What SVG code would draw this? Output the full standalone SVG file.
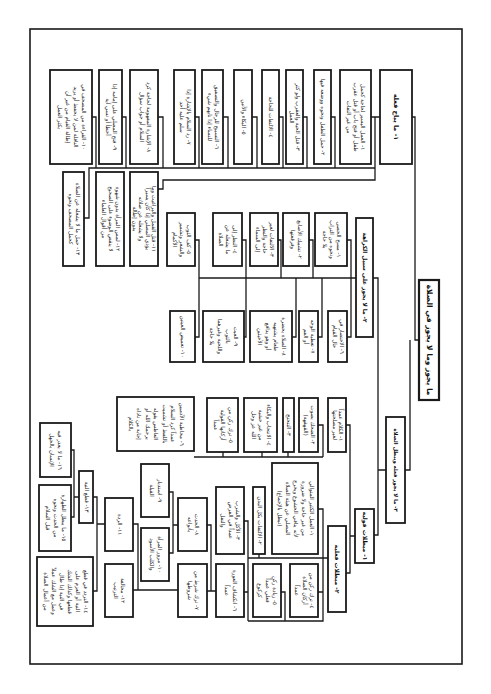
<svg xmlns="http://www.w3.org/2000/svg" width="491" height="694" viewBox="0 0 491 694">
<style>
.b{fill:#fff;stroke:#1a1a1a;stroke-width:1.8}
.t{font-family:"DejaVu Sans",sans-serif;font-size:5.5px;fill:#222;text-anchor:middle}
.h{font-family:"DejaVu Sans",sans-serif;font-size:6px;font-weight:bold;fill:#111;text-anchor:middle}
.c{fill:none;stroke:#1a1a1a;stroke-width:1.3}
</style>
<rect x="0" y="0" width="491" height="694" fill="#fff"/>
<rect x="30" y="29" width="432" height="635" fill="none" stroke="#1a1a1a" stroke-width="1.6"/>

<g id="connectors" class="c">
<path d="M371,117H380M412,117H415V340H419M410,340V470H405"/>
<path d="M375,117V180H163V189H158"/>
<path d="M375,168H89V218H84"/>
<path d="M331,117H335V168M303,117H307V168M279,117H283V168M252,117H257V168M223,117H228V168M195,117H199V168M158,117H163V168M122,117H126V168M92,117H96V168"/>
<path d="M373,278H378V535H374M386,470H378"/>
<path d="M356,278H199"/>
<path d="M347,240H351V337H347M309,240H313V278M278,240H281V278M242,240H246V337H244M195,240H199V337H195M296,278V337H292M322,278V337H318"/>
<path d="M346,425H350V573H346M355,536H350"/>
<path d="M318,425H323V457M194,457H323M223,452V457M262,452V457M288,452V457"/>
<path d="M328,558H248M318,509H323V621H248M318,592H323M281,592H285V621M244,521H248V621M244,592H248M259,554V558"/>
<path d="M207,591H216M207,525H211V591"/>
<path d="M169,492H173V553H169M173,525H178"/>
<path d="M133,524H138V590H133M138,590H178"/>
<path d="M93,497H97V591H93M97,524H105"/>
<path d="M71,450H74V517H71M74,497H79"/>
</g>

<g id="title"><rect class="b" x="419" y="280" width="20" height="120" style="stroke-width:2.2"/>
<text class="h" style="font-size:7.5px" transform="translate(426.5,280) rotate(90)" x="60" y="0">ما يجوز وما لا يجوز في الصلاة</text></g>

<g id="h1"><rect class="b" x="380" y="70" width="32" height="94"/>
<text class="h" style="font-size:6.5px" transform="translate(394,70) rotate(90)" x="47" y="0">١- ما يباح فعله</text></g>

<g id="a1"><rect class="b" x="340" y="70" width="31" height="94"/>
<text class="t" transform="translate(361,70) rotate(90)"><tspan x="47" y="0">١- العمل اليسير لحاجة كحمل</tspan><tspan x="47" y="7">طفل أو فتح باب أو قتل عقرب</tspan><tspan x="47" y="14">من غير التفات</tspan></text></g>
<g id="a2"><rect class="b" x="314" y="70" width="17" height="94"/>
<text class="t" transform="translate(321,70) rotate(90)"><tspan x="47" y="0">٢- حمل الطفل ونحوه ووضعه فيها</tspan></text></g>
<g id="a3"><rect class="b" x="286" y="70" width="17" height="94"/>
<text class="t" transform="translate(296,70) rotate(90)"><tspan x="47" y="0">٣- قتل الحية والعقرب ولو كثر</tspan><tspan x="47" y="6">العمل</tspan></text></g>
<g id="a4"><rect class="b" x="262" y="70" width="17" height="94"/>
<text class="t" transform="translate(269,70) rotate(90)"><tspan x="47" y="0">٤- الالتفات للحاجة</tspan></text></g>
<g id="a5"><rect class="b" x="234" y="70" width="18" height="94"/>
<text class="t" transform="translate(241.5,70) rotate(90)"><tspan x="47" y="0">٥- البكاء والأنين</tspan></text></g>
<g id="a6"><rect class="b" x="202" y="70" width="21" height="94"/>
<text class="t" transform="translate(214.5,70) rotate(90)"><tspan x="47" y="0">٦- التسبيح للرجال والتصفيق</tspan><tspan x="47" y="7">للنساء إذا نابهم شيء</tspan></text></g>
<g id="a7"><rect class="b" x="174" y="70" width="21" height="94"/>
<text class="t" transform="translate(186.5,70) rotate(90)"><tspan x="47" y="0">٧- رد السلام بالإشارة إذا</tspan><tspan x="47" y="7">سلم عليه أحد</tspan></text></g>
<g id="a8"><rect class="b" x="130" y="70" width="28" height="94"/>
<text class="t" transform="translate(147,70) rotate(90)"><tspan x="47" y="0">٨- الإشارة المفهومة لحاجة كرد</tspan><tspan x="47" y="7">السلام أو جواب سؤال</tspan></text></g>
<g id="a9"><rect class="b" x="99" y="70" width="23" height="94"/>
<text class="t" transform="translate(112.5,70) rotate(90)"><tspan x="47" y="0">٩- فتح المصلي على إمامه إذا</tspan><tspan x="47" y="7">أخطأ أو نسي آية</tspan></text></g>
<g id="a10"><rect class="b" x="50" y="70" width="42" height="94"/>
<text class="t" transform="translate(81.5,70) rotate(90)"><tspan x="47" y="0">١٠- القراءة من المصحف في</tspan><tspan x="47" y="8">النافلة لمن لا يحفظ أو يريد</tspan><tspan x="47" y="16">إطالة القيام من غير أن</tspan><tspan x="47" y="24">يكثر العمل</tspan></text></g>
<g id="a11"><rect class="b" x="130" y="172" width="28" height="94"/>
<text class="t" transform="translate(152,172) rotate(90)"><tspan x="47" y="0">١١- قتل القمل والبراغيث وما</tspan><tspan x="47" y="6.5">يؤذي المصلي إذا كان يسيراً</tspan><tspan x="47" y="13">ولا يشغله عن صلاته</tspan><tspan x="47" y="19.5">بدون إطالة</tspan></text></g>
<g id="a12"><rect class="b" x="96" y="172" width="28" height="94"/>
<text class="t" transform="translate(115.5,172) rotate(90)"><tspan x="47" y="0">١٢- لمس المرأة بدون شهوة</tspan><tspan x="47" y="7">لا ينقض الوضوء على الصحيح</tspan><tspan x="47" y="14">من أقوال العلماء</tspan></text></g>
<g id="a13"><rect class="b" x="63" y="172" width="21" height="94"/>
<text class="t" transform="translate(75.5,172) rotate(90)"><tspan x="47" y="0">١٣- حمل ما لا يشغله عن الصلاة</tspan><tspan x="47" y="7">كحمل المصحف ونحوه</tspan></text></g>

<g id="kh"><rect class="b" x="356" y="218" width="17" height="119"/>
<text class="h" style="font-size:5.8px" transform="translate(363,218) rotate(90)" x="59.5" y="0">٢- ما لا يجوز على سبيل الكراهة</text></g>
<g id="k1"><rect class="b" x="315" y="213" width="32" height="53"/>
<text class="t" transform="translate(336.5,213) rotate(90)"><tspan x="26.5" y="0">١- مسح الحصى</tspan><tspan x="26.5" y="7">ونحوه من التراب</tspan><tspan x="26.5" y="14">بلا حاجة</tspan></text></g>
<g id="k2"><rect class="b" x="283" y="213" width="26" height="53"/>
<text class="t" transform="translate(298,213) rotate(90)"><tspan x="26.5" y="0">٢- تشبيك الأصابع</tspan><tspan x="26.5" y="7">وفرقعتها</tspan></text></g>
<g id="k3"><rect class="b" x="250" y="213" width="28" height="53"/>
<text class="t" transform="translate(269.5,213) rotate(90)"><tspan x="26.5" y="0">٣- الالتفات لغير</tspan><tspan x="26.5" y="7">حاجة والنظر</tspan><tspan x="26.5" y="14">إلى السماء</tspan></text></g>
<g id="k4"><rect class="b" x="213" y="213" width="29" height="53"/>
<text class="t" transform="translate(233,213) rotate(90)"><tspan x="26.5" y="0">٤- النظر إلى</tspan><tspan x="26.5" y="7">ما يشغله عن</tspan><tspan x="26.5" y="14">الصلاة</tspan></text></g>
<g id="k5"><rect class="b" x="167" y="213" width="28" height="53"/>
<text class="t" transform="translate(186.5,213) rotate(90)"><tspan x="26.5" y="0">٥- كف الثوب</tspan><tspan x="26.5" y="7">والشعر وتشمير</tspan><tspan x="26.5" y="14">الأكمام</tspan></text></g>
<g id="l5"><rect class="b" x="328" y="311" width="19" height="51"/>
<text class="t" transform="translate(339.5,311) rotate(90)"><tspan x="25.5" y="0">٦- الاختصار في</tspan><tspan x="25.5" y="6.5">حال القيام</tspan></text></g>
<g id="l4"><rect class="b" x="299" y="311" width="19" height="51"/>
<text class="t" transform="translate(310.5,311) rotate(90)"><tspan x="25.5" y="0">٧- تغطية الوجه</tspan><tspan x="25.5" y="6.5">أو الفم</tspan></text></g>
<g id="l3"><rect class="b" x="250" y="311" width="42" height="51"/>
<text class="t" transform="translate(281.5,311) rotate(90)"><tspan x="25.5" y="0">٨- الصلاة بحضرة</tspan><tspan x="25.5" y="8">طعام يشتهيه</tspan><tspan x="25.5" y="16">أو وهو يدافع</tspan><tspan x="25.5" y="24">الأخبثين</tspan></text></g>
<g id="l2"><rect class="b" x="203" y="311" width="41" height="51"/>
<text class="t" transform="translate(234,311) rotate(90)"><tspan x="25.5" y="0">٩- العبث</tspan><tspan x="25.5" y="8">بالثوب</tspan><tspan x="25.5" y="16">واللحية وغيرهما</tspan><tspan x="25.5" y="24">بلا حاجة</tspan></text></g>
<g id="l1"><rect class="b" x="170" y="311" width="25" height="51"/>
<text class="t" transform="translate(181,311) rotate(90)"><tspan x="25.5" y="0">١٠- تغميض العينين</tspan></text></g>

<g id="b2"><rect class="b" x="386" y="417" width="19" height="106"/>
<text class="h" style="font-size:5.3px" transform="translate(393.5,417) rotate(90)" x="53" y="0">٣- ما لا يجوز فعله ويبطل الصلاة</text></g>
<g id="b3"><rect class="b" x="355" y="509" width="19" height="54"/>
<text class="h" transform="translate(362.5,509) rotate(90)" x="27" y="0">١- مبطلات قولية</text></g>
<g id="p"><rect class="b" x="328" y="526" width="18" height="86"/>
<text class="h" transform="translate(335,526) rotate(90)" x="43" y="0">٢- مبطلات فعلية</text></g>

<g id="m6"><rect class="b" x="328" y="398" width="18" height="54"/>
<text class="t" transform="translate(338.5,398) rotate(90)"><tspan x="27" y="0">١- الكلام عمداً</tspan><tspan x="27" y="6">لغير مصلحتها</tspan></text></g>
<g id="m5"><rect class="b" x="299" y="398" width="19" height="54"/>
<text class="t" transform="translate(310.5,398) rotate(90)"><tspan x="27" y="0">٢- الضحك بصوت</tspan><tspan x="27" y="6.5">(القهقهة)</tspan></text></g>
<g id="m4"><rect class="b" x="283" y="398" width="11" height="54"/>
<text class="t" transform="translate(287,398) rotate(90)"><tspan x="27" y="0">٣- التنحنح</tspan></text></g>
<g id="m3"><rect class="b" x="244" y="398" width="33" height="54"/>
<text class="t" transform="translate(266.5,398) rotate(90)"><tspan x="27" y="0">٤- الانتحاب والبكاء</tspan><tspan x="27" y="7.5">من غير خشية</tspan><tspan x="27" y="15">الله عز وجل</tspan></text></g>
<g id="m2"><rect class="b" x="207" y="398" width="31" height="54"/>
<text class="t" transform="translate(228.5,398) rotate(90)"><tspan x="27" y="0">٥- ترك ركن من</tspan><tspan x="27" y="7.5">أركانها القولية</tspan><tspan x="27" y="15">عمداً</tspan></text></g>
<g id="m1"><rect class="b" x="117" y="397" width="77" height="54"/>
<text class="t" transform="translate(179.5,397) rotate(90)"><tspan x="27" y="0">٦- مخاطبة الآدميين</tspan><tspan x="27" y="8.5">عمداً كرد السلام</tspan><tspan x="27" y="17">باللفظ أو تشميت</tspan><tspan x="27" y="25.5">العاطس بقوله</tspan><tspan x="27" y="34">يرحمك الله أو</tspan><tspan x="27" y="42.5">إجابة من ناداه</tspan><tspan x="27" y="51">بالكلام</tspan></text></g>

<g id="q1"><rect class="b" x="272" y="463" width="46" height="91"/>
<text class="t" transform="translate(309.5,463) rotate(90)"><tspan x="45.5" y="0">١- العمل الكثير المتوالي</tspan><tspan x="45.5" y="8">من غير حاجة ولا ضرورة</tspan><tspan x="45.5" y="16">لأنه ينافي الخشوع ويخرج</tspan><tspan x="45.5" y="24">المصلي عن هيئة الصلاة</tspan><tspan x="45.5" y="32">(تبطل بالإجماع)</tspan></text></g>
<g id="q2"><rect class="b" x="253" y="487" width="12" height="67"/>
<text class="t" transform="translate(257.5,487) rotate(90)"><tspan x="33.5" y="0">٢- الالتفات بكل البدن</tspan></text></g>
<g id="q3"><rect class="b" x="216" y="487" width="28" height="67"/>
<text class="t" transform="translate(236,487) rotate(90)"><tspan x="33.5" y="0">٣- الأكل والشرب</tspan><tspan x="33.5" y="7.5">عمداً في الفرض</tspan><tspan x="33.5" y="15">والنفل</tspan></text></g>
<g id="r1"><rect class="b" x="290" y="564" width="28" height="53"/>
<text class="t" transform="translate(310,564) rotate(90)"><tspan x="26.5" y="0">٤- ترك ركن من</tspan><tspan x="26.5" y="7.5">أركان الصلاة</tspan><tspan x="26.5" y="15">عمداً</tspan></text></g>
<g id="r2"><rect class="b" x="253" y="564" width="28" height="53"/>
<text class="t" transform="translate(273,564) rotate(90)"><tspan x="26.5" y="0">٥- زيادة ركن</tspan><tspan x="26.5" y="7.5">فعلي عمداً</tspan><tspan x="26.5" y="15">كركوع</tspan></text></g>
<g id="r3"><rect class="b" x="216" y="564" width="28" height="53"/>
<text class="t" transform="translate(232.5,564) rotate(90)"><tspan x="26.5" y="0">٦- انكشاف العورة</tspan><tspan x="26.5" y="7.5">عمداً</tspan></text></g>
<g id="r4"><rect class="b" x="178" y="564" width="29" height="53"/>
<text class="t" transform="translate(195,564) rotate(90)"><tspan x="26.5" y="0">٧- ترك شرط من</tspan><tspan x="26.5" y="7.5">شروطها</tspan></text></g>
<g id="s1"><rect class="b" x="178" y="498" width="29" height="53"/>
<text class="t" transform="translate(195,498) rotate(90)"><tspan x="26.5" y="0">٨- الحدث</tspan><tspan x="26.5" y="7.5">بأنواعه</tspan></text></g>
<g id="t1"><rect class="b" x="141" y="464" width="28" height="53"/>
<text class="t" transform="translate(157.5,464) rotate(90)"><tspan x="26.5" y="0">٩- استدبار</tspan><tspan x="26.5" y="7.5">القبلة</tspan></text></g>
<g id="t2"><rect class="b" x="141" y="528" width="28" height="53"/>
<text class="t" transform="translate(157.5,528) rotate(90)"><tspan x="26.5" y="0">١٠- مرور المرأة</tspan><tspan x="26.5" y="7.5">والكلب الأسود</tspan></text></g>
<g id="u1"><rect class="b" x="105" y="498" width="28" height="53"/>
<text class="t" transform="translate(117.5,498) rotate(90)"><tspan x="26.5" y="0">١١- الردة</tspan></text></g>
<g id="u2"><rect class="b" x="105" y="564" width="28" height="53"/>
<text class="t" transform="translate(121,564) rotate(90)"><tspan x="26.5" y="0">١٢- مخالفة</tspan><tspan x="26.5" y="7.5">الترتيب</tspan></text></g>
<g id="v1"><rect class="b" x="79" y="471" width="14" height="52"/>
<text class="t" transform="translate(84.5,471) rotate(90)"><tspan x="26" y="0">١٣- قطع النية</tspan></text></g>
<g id="v2"><rect class="b" x="37" y="557" width="56" height="69"/>
<text class="t" transform="translate(83.5,557) rotate(90)"><tspan x="34.5" y="0">١٤- التردد في قطع</tspan><tspan x="34.5" y="8">النية أو العزم على</tspan><tspan x="34.5" y="16">قطعها وكذلك الشك</tspan><tspan x="34.5" y="24">في النية إذا طال</tspan><tspan x="34.5" y="32">وعمل مع الشك عملاً</tspan><tspan x="34.5" y="40">من أعمال الصلاة</tspan></text></g>
<g id="w1"><rect class="b" x="39" y="485" width="32" height="66"/>
<text class="t" transform="translate(61.5,485) rotate(90)"><tspan x="33" y="0">١٥- ما يبطل الطهارة</tspan><tspan x="33" y="8">من الحدث ونحوه</tspan><tspan x="33" y="16">قبل السلام</tspan></text></g>
<g id="w0"><rect class="b" x="40" y="423" width="31" height="54"/>
<text class="t" transform="translate(58,423) rotate(90)"><tspan x="27" y="0">١٦- ما لا يعذر فيه</tspan><tspan x="27" y="8">الإنسان بالجهل</tspan></text></g>
</svg>
